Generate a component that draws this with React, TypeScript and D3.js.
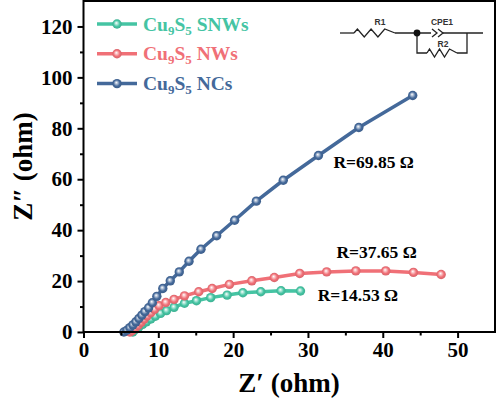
import React, { useRef, useEffect } from 'react';
import * as d3 from 'd3';

// Nyquist data (Z' , Z'' in ohm)
const snwsX = [6.6, 7.0, 7.4, 7.9, 8.4, 9.0, 9.6, 10.3, 11.1, 12.1, 13.5, 15.1, 17.0, 19.2, 21.3, 23.7, 26.4, 29.0];
const snwsY = [0, 1.1, 2.0, 3.0, 4.0, 5.1, 6.2, 7.3, 8.4, 9.7, 11.3, 12.3, 13.5, 14.5, 15.4, 15.8, 16.2, 16.1];

const nwsX = [6.2, 6.5, 6.9, 7.3, 7.7, 8.1, 8.5, 9.0, 9.5, 10.1, 11.0, 12.1, 13.5, 15.4, 17.2, 19.5, 22.5, 25.5, 28.9, 32.5, 36.4, 40.4, 44.1, 47.8];
const nwsY = [0, 0.5, 1.5, 2.6, 3.8, 5.0, 6.3, 7.6, 8.9, 10.3, 11.6, 12.8, 14.2, 15.8, 17.1, 18.7, 20.1, 21.4, 23.0, 23.6, 24.0, 24.0, 23.4, 22.6];

const ncsX = [5.4, 5.8, 6.2, 6.6, 7.0, 7.4, 7.8, 8.2, 8.7, 9.2, 9.8, 10.6, 11.6, 12.8, 14.1, 15.7, 17.8, 20.2, 23.1, 26.7, 31.4, 36.8, 44.0];
const ncsY = [0, 0.7, 1.7, 2.8, 4.0, 5.3, 6.6, 8.0, 9.5, 11.5, 14.0, 17.1, 20.1, 23.6, 27.8, 32.5, 37.8, 43.9, 51.4, 59.6, 69.3, 80.3, 92.9];

const seriesNames = ['SNWs', 'NWs', 'NCs'];
const seriesColors = ['#45c4a3', '#f07077', '#44699a'];
const seriesX = [snwsX, nwsX, ncsX];
const seriesY = [snwsY, nwsY, ncsY];

const xTicks = [0, 10, 20, 30, 40, 50];
const yTicks = [0, 20, 40, 60, 80, 100, 120];

const fits = [
	{ label: 'R=69.85 Ω', x: 33.4, y: 64.5 },
	{ label: 'R=37.65 Ω', x: 33.8, y: 29.1 },
	{ label: 'R=14.53 Ω', x: 31.3, y: 12.0 },
];

const W = 498;
const H = 401;

const App: React.FC = () => {
	const svgRef = useRef<SVGSVGElement | null>(null);

	const marginLeft = 83.5;
	const marginRight = 3;
	const marginTop = 1;
	const marginBottom = 69;

	useEffect(() => {
		if (!svgRef.current) return;
		const svg = d3.select(svgRef.current);
		svg.selectAll('*').remove();

		const font = '"Liberation Serif", "Times New Roman", serif';

		const x = d3.scaleLinear().domain([0, 55]).range([marginLeft, W - marginRight]);
		const y = d3.scaleLinear().domain([0, 130]).range([H - marginBottom, marginTop]);

		// marker gradients (glossy balls)
		const defs = svg.append('defs');
		seriesColors.forEach((c, i) => {
			const g = defs.append('radialGradient')
				.attr('id', `ball${i}`)
				.attr('cx', '0.5').attr('cy', '0.5').attr('r', '0.55')
				.attr('fx', '0.42').attr('fy', '0.38');
			g.append('stop').attr('offset', '0').attr('stop-color', '#ffffff');
			g.append('stop').attr('offset', '0.3').attr('stop-color', d3.interpolateRgb(c, '#fff')(0.5));
			g.append('stop').attr('offset', '0.6').attr('stop-color', c);
			g.append('stop').attr('offset', '1').attr('stop-color', d3.color(c)!.darker(0.4).toString());
		});

		// series
		const line = d3.line<[number, number]>()
			.x(d => x(d[0]))
			.y(d => y(d[1]));

		seriesX.forEach((xs, i) => {
			const pts: [number, number][] = xs.map((v, j) => [v, seriesY[i][j]]);
			svg.append('path')
				.attr('fill', 'none')
				.attr('stroke', seriesColors[i])
				.attr('stroke-width', 3.5)
				.attr('stroke-linejoin', 'round')
				.attr('d', line(pts));
			svg.append('g').selectAll('circle')
				.data(pts)
				.join('circle')
				.attr('cx', d => x(d[0]))
				.attr('cy', d => y(d[1]))
				.attr('r', 4.7)
				.attr('fill', `url(#ball${i})`);
		});

		// frame
		svg.append('rect')
			.attr('x', marginLeft)
			.attr('y', marginTop)
			.attr('width', W - marginRight - marginLeft)
			.attr('height', H - marginBottom - marginTop)
			.attr('fill', 'none')
			.attr('stroke', '#000')
			.attr('stroke-width', 2);

		// x axis
		const xAxis = svg.append('g')
			.attr('transform', `translate(0,${H - marginBottom})`)
			.call(d3.axisBottom(x).tickValues(xTicks).tickSize(6).tickPadding(4))
			.call(g => g.select('.domain').remove());
		xAxis.selectAll('.tick line').attr('stroke-width', 2);
		xAxis.selectAll('.tick text')
			.attr('font-family', font)
			.attr('font-weight', 'bold')
			.attr('font-size', 21);
		svg.append('g')
			.attr('transform', `translate(0,${H - marginBottom})`)
			.call(d3.axisBottom(x).tickValues([5, 15, 25, 35, 45]).tickSize(3.5).tickFormat(() => ''))
			.call(g => g.select('.domain').remove())
			.call(g => g.selectAll('.tick line').attr('stroke-width', 2));

		// y axis
		const yAxis = svg.append('g')
			.attr('transform', `translate(${marginLeft},0)`)
			.call(d3.axisLeft(y).tickValues(yTicks).tickSize(6).tickPadding(5))
			.call(g => g.select('.domain').remove());
		yAxis.selectAll('.tick line').attr('stroke-width', 2);
		yAxis.selectAll('.tick text')
			.attr('font-family', font)
			.attr('font-weight', 'bold')
			.attr('font-size', 21);
		svg.append('g')
			.attr('transform', `translate(${marginLeft},0)`)
			.call(d3.axisLeft(y).tickValues([10, 30, 50, 70, 90, 110]).tickSize(3.5).tickFormat(() => ''))
			.call(g => g.select('.domain').remove())
			.call(g => g.selectAll('.tick line').attr('stroke-width', 2));

		// axis titles
		svg.append('text')
			.attr('x', 289)
			.attr('y', 392)
			.attr('text-anchor', 'middle')
			.attr('font-family', font)
			.attr('font-weight', 'bold')
			.attr('font-size', 27)
			.text('Z\u2032 (ohm)');
		svg.append('text')
			.attr('transform', `translate(32,${(marginTop + H - marginBottom) / 2}) rotate(-90)`)
			.attr('text-anchor', 'middle')
			.attr('font-family', font)
			.attr('font-weight', 'bold')
			.attr('font-size', 27)
			.text('Z\u2033 (ohm)');

		// legend
		seriesNames.forEach((name, i) => {
			const ly = 24 + i * 29.8;
			const c = seriesColors[i];
			svg.append('line')
				.attr('x1', 97).attr('x2', 137)
				.attr('y1', ly).attr('y2', ly)
				.attr('stroke', c).attr('stroke-width', 3.5);
			svg.append('circle')
				.attr('cx', 117).attr('cy', ly).attr('r', 4.7)
				.attr('fill', `url(#ball${i})`);
			const t = svg.append('text')
				.attr('x', 143).attr('y', ly + 6.5)
				.attr('font-family', font)
				.attr('font-weight', 'bold')
				.attr('font-size', 19.5)
				.attr('fill', c);
			t.append('tspan').text('Cu');
			t.append('tspan').attr('font-size', 13).attr('dy', 4).text('9');
			t.append('tspan').attr('dy', -4).text('S');
			t.append('tspan').attr('font-size', 13).attr('dy', 4).text('5');
			t.append('tspan').attr('dy', -4).text(` ${name}`);
		});

		// fit annotations
		fits.forEach(f => {
			svg.append('text')
				.attr('x', x(f.x))
				.attr('y', y(f.y))
				.attr('font-family', font)
				.attr('font-weight', 'bold')
				.attr('font-size', 17.5)
				.text(f.label);
		});

		// equivalent circuit inset
		const cg = svg.append('g')
			.attr('fill', 'none')
			.attr('stroke', '#222')
			.attr('stroke-width', 1.3);
		const zig = (x0: number, x1: number, yy: number) => {
			const n = 6;
			const step = (x1 - x0) / n;
			let d = `M${x0},${yy}`;
			for (let k = 1; k <= n; k++) {
				const off = k === n ? 0 : (k % 2 === 1 ? -4 : 4);
				d += ` L${x0 + step * k - (k === n ? 0 : step / 2)},${yy + off}`;
			}
			return d + ` L${x1},${yy}`;
		};
		const cy = 33;
		cg.append('path').attr('d', `M340,${cy} L354,${cy}`);
		cg.append('path').attr('d', zig(354, 395, cy));
		cg.append('path').attr('d', `M395,${cy} L431,${cy}`);
		cg.append('path').attr('d', `M432,${cy - 4} L437,${cy} L432,${cy + 4} M438,${cy - 4} L443,${cy} L438,${cy + 4}`);
		cg.append('path').attr('d', `M443,${cy} L483,${cy}`);
		cg.append('path').attr('d', `M417,${cy} L417,${cy + 20} L427,${cy + 20}`);
		cg.append('path').attr('d', zig(427, 457, cy + 20));
		cg.append('path').attr('d', `M457,${cy + 20} L467,${cy + 20} L467,${cy}`);
		svg.append('circle').attr('cx', 417).attr('cy', cy).attr('r', 3.4).attr('fill', '#111');
		const lab = (tx: number, ty: number, s: string) => svg.append('text')
			.attr('x', tx).attr('y', ty)
			.attr('text-anchor', 'middle')
			.attr('font-family', '"Liberation Sans", Arial, sans-serif')
			.attr('font-weight', 'bold')
			.attr('font-size', 8.5)
			.attr('fill', '#333')
			.text(s);
		lab(380, 25, 'R1');
		lab(442, 25, 'CPE1');
		lab(443, 47, 'R2');

		return () => { svg.selectAll('*').remove(); };
	}, []);

	return (
		<svg
			ref={svgRef}
			width={W}
			height={H}
			viewBox={`0 0 ${W} ${H}`}
			style={{ position: 'absolute', left: 0, top: 0, background: '#fff' }}
		/>
	);
};

export default App;
